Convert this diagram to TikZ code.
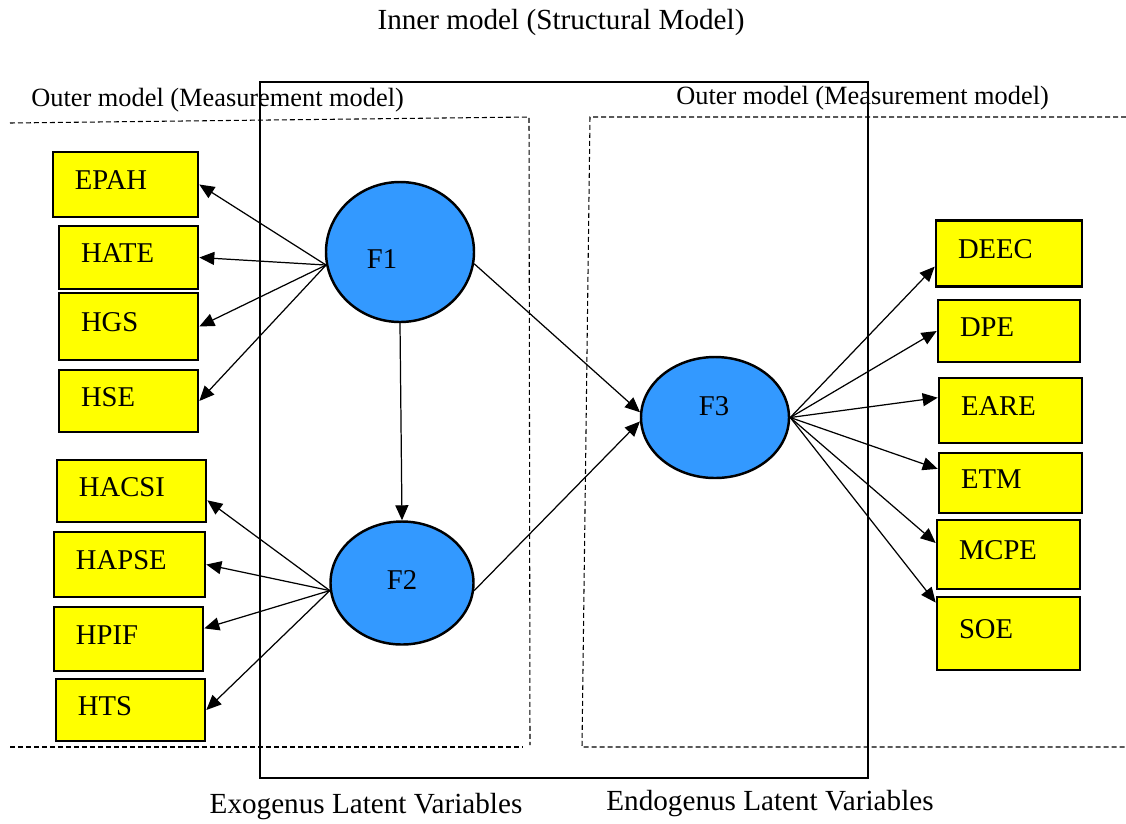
\documentclass[tikz,border=0pt]{standalone}
\usepackage[svgnames]{xcolor}
\usepackage{fontspec}
\setmainfont{Liberation Serif}
\usepackage{tikz}
\usetikzlibrary{
  arrows.meta,
  shapes.geometric
}
\definecolor{latentBlue}{HTML}{3399FF}
\colorlet{indicatorYellow}{Yellow}
\tikzset{
  indicator/.style={draw,line width=1.5pt,fill=indicatorYellow,align=left,
    inner xsep=0.44cm,inner ysep=0pt,text depth=0.16cm,
    font=\fontsize{16.3}{19}\selectfont},
  latent/.style={ellipse,draw,line width=1.4pt,fill=latentBlue,inner sep=0pt},
  latentname/.style={inner sep=0pt,font=\fontsize{16.3}{19}\selectfont},
  link/.style={-{Triangle[length=0.3cm,width=0.26cm]},line width=0.7pt},
  outer/.style={line width=0.6pt,dash pattern=on 0.1cm off 0.06cm},
  heading/.style={inner sep=0pt,font=\fontsize{16.6}{20}\selectfont},
  subheading/.style={inner sep=0pt,font=\fontsize{15}{18}\selectfont},
}

\begin{document}
\begin{tikzpicture}[x=0.02cm,y=-0.02cm]
\useasboundingbox (0,0) rectangle (1126,823);

% inner model frame and the two dashed measurement regions
\draw[line width=0.75pt] (260,82) rectangle (868,778);
\draw[outer] (10,123) -- (529,117) -- (530,745);
\draw[outer] (10,747) -- (522,747);
\draw[outer] (1126,117) -- (590,117) -- (582,747) -- (1126,747);

\node[heading,anchor=base] (inner) at (561,29) {Inner model (Structural Model)};
\node[subheading,anchor=base west] (outerL) at (31,106) {Outer model (Measurement model)};
\node[subheading,anchor=base west] (outerR) at (676,104) {Outer model (Measurement model)};
\node[heading,anchor=base] (exo) at (366,813) {Exogenus Latent Variables};
\node[heading,anchor=base] (endo) at (770,810) {Endogenus Latent Variables};

% latent variables
\foreach \n/\x/\y/\w/\h/\dx/\dy in {F1/400/252/148/140/-18/7.5,
    F2/402/583/143/123/0/-3, F3/715/417.5/148/121/-1/-11} {
  \pgfmathsetmacro\bw{\w*0.02}
  \pgfmathsetmacro\bh{\h*0.02}
  \node[latent,minimum width=\bw cm,minimum height=\bh cm,
    label={[latentname,shift={(\dx,\dy)}]center:\n}] (\n) at (\x,\y) {};
}

% indicators
\foreach \n/\x/\y/\w/\h in {EPAH/125.5/184.5/145/65, HATE/128.5/257.5/139/63,
    HGS/128.5/326.5/139/67, HSE/128.5/401/139/62,
    HACSI/131.5/491/149/62, HAPSE/129.5/564.5/151/65,
    HPIF/128.5/639/149/64, HTS/130.5/710/149/62,
    DEEC/1009/253.5/146/66, DPE/1009/331/142/62, EARE/1010.5/410.5/143/65,
    ETM/1010.5/483/143/60, MCPE/1008.5/554.5/143/69, SOE/1008.5/633.5/143/73} {
  \pgfmathsetmacro\tw{(\w-44)*0.02}
  \pgfmathsetmacro\bh{\h*0.02}
  \node[indicator,text width=\tw cm,minimum height=\bh cm] (\n) at (\x,\y) {\n};
}

\foreach \t/\a in {EPAH/east,HATE/east,HGS/east,HSE/east}
  \draw[link] (F1.190) -- (\t.\a);
\foreach \t/\a in {HACSI/-7,HAPSE/east,HPIF/8,HTS/east}
  \draw[link] (F2.186) -- (\t.\a);
\foreach \t/\a in {DEEC/190,DPE/west,EARE/170,ETM/169,MCPE/171,SOE/157}
  \draw[link] (F3.east) -- (\t.\a);

\draw[link] (F1.south) -- (F2.north);
\draw[link] (F1.-9) -- (F3.176);
\draw[link] (F2.-6) -- (F3.183);
\end{tikzpicture}
\end{document}
